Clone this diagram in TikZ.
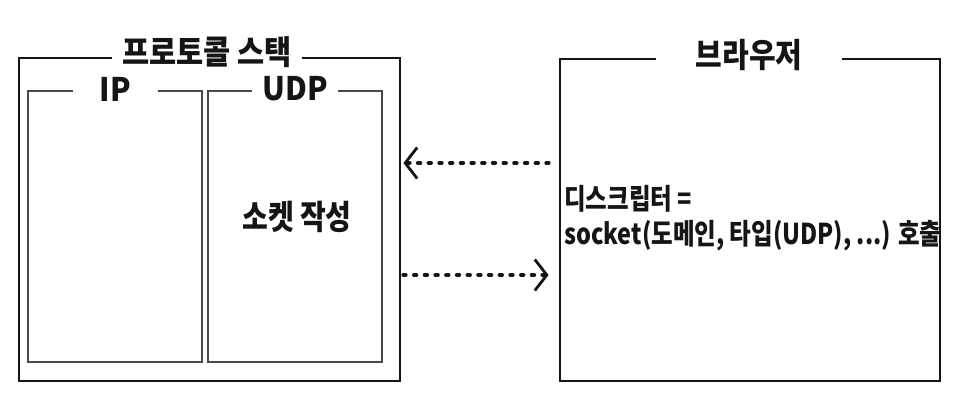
\documentclass[tikz,border=0pt]{standalone}
\usepackage{fontspec}
\setmainfont{Noto Sans CJK KR}
\usetikzlibrary{arrows.meta}
\definecolor{ink}{HTML}{151515}
\definecolor{thin}{HTML}{4A4A4A}
\newcommand{\tall}[2][1.2]{\scalebox{1}[#1]{#2}}
\tikzset{
  outerbox/.style={draw=ink, line width=2.8pt, inner sep=0pt},
  innerbox/.style={draw=thin, line width=1.4pt, inner sep=0pt},
  gaplabel/.style={fill=white, inner sep=0pt, text=ink, font=\bfseries},
  bodytext/.style={text=ink, font=\bfseries, inner sep=0pt},
  dotarrow/.style={draw=ink, line width=4.2pt, line cap=round,
    dash pattern=on 2.2pt off 8.5pt,
    -{Straight Barb[length=12pt, width=31pt, line width=2.8pt]}},
}
\begin{document}
\begin{tikzpicture}[x=1pt, y=-1pt]
\useasboundingbox (0,0) rectangle (972,395);
% boxes
\node[outerbox, minimum width=381pt, minimum height=323pt] (stack) at (209.5,219.5) {};
\node[outerbox, minimum width=380pt, minimum height=322pt] (browser) at (750,220) {};
\node[innerbox, minimum width=174pt, minimum height=271pt] (ip) at (115,226.5) {};
\node[innerbox, minimum width=174pt, minimum height=271pt] (udp) at (295,226.5) {};
% gap labels
\node[gaplabel, minimum width=190pt, minimum height=12pt, font=\bfseries\fontsize{29.5}{31}\selectfont] (stacklabel) at (207,52) {\tall[1.12]{프로토콜 스택}};
\node[gaplabel, minimum width=186pt, minimum height=12pt, font=\bfseries\fontsize{29}{31}\selectfont] (browserlabel) at (749,55) {\tall[1.15]{브라우저}};
\node[gaplabel, minimum width=85pt, minimum height=12pt, font=\bfseries\fontsize{30}{32}\selectfont] (iplabel) at (115.5,89) {\tall[1.08]{IP}};
\node[gaplabel, minimum width=86pt, minimum height=12pt, font=\bfseries\fontsize{30}{32}\selectfont] (udplabel) at (295,89) {\tall[1.08]{UDP}};
% texts
\node[bodytext, font=\bfseries\fontsize{28}{30}\selectfont] (sock) at (297,217) {\tall[1.2]{소켓 작성}};
\node[bodytext, anchor=west, align=left, font=\bfseries\fontsize{23.5}{35}\selectfont] (call) at (564,218) {\tall[1.22]{디스크립터 =}\\\tall[1.22]{socket(도메인, 타입(UDP), ...) 호출}};
% arrows
\coordinate (a1s) at ([xshift=-10pt]browser.west |- 0,163);
\coordinate (a1e) at ([xshift=2pt]stack.east |- 0,163);
\coordinate (a2s) at ([xshift=2pt]stack.east |- 0,275);
\coordinate (a2e) at ([xshift=-10pt]browser.west |- 0,275);
\draw[dotarrow] (a1s) -- (a1e);
\draw[dotarrow] (a2s) -- (a2e);
\end{tikzpicture}
\end{document}
